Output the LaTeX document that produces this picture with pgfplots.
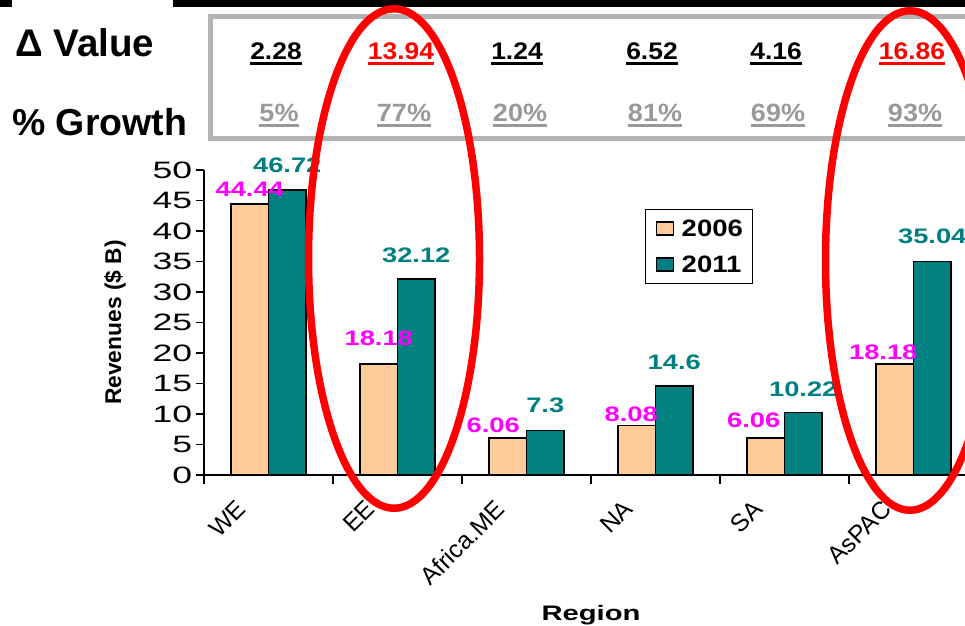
\documentclass[border=0pt]{standalone}
\usepackage{fontspec}
\setmainfont{Liberation Sans}
\usepackage{graphicx}
\usepackage{pgfplots}
\usepackage{pgfplotstable}
\pgfplotsset{compat=1.18}
\definecolor{c06}{HTML}{FFCC99}
\definecolor{c11}{HTML}{008080}
\definecolor{mag}{HTML}{FF00FF}
\definecolor{gbox}{HTML}{B3B3B3}
\definecolor{gtxt}{HTML}{999999}
\newcommand\ul[1]{\vtop{\hbox{#1}\kern2pt\hrule height 3pt}}
\newcommand\fs[1]{\fontsize{#1}{#1}\selectfont}

\pgfplotstableread{
x y dx dy
0 44.44 0 14.5
1 18.18 0 25.5
2 6.06 -14.5 13
3 8.08 -5.5 11.5
4 6.06 -12 18
5 18.18 -11.5 11.5
}\tsix
\pgfplotstableread{
x y dx dy
0 46.72 0 24.5
1 32.12 0 24
2 7.3 0 25.5
3 14.6 0 24
4 10.22 0 23
5 35.04 0 24.5
}\televen

\begin{document}
\begin{tikzpicture}[x=1pt,y=1pt]
\useasboundingbox (0,0) rectangle (965,625);
\clip (0,0) rectangle (965,625);
% top decoration
\fill[black] (0,618) rectangle (12,625);
\fill[black] (173,618) rectangle (965,625);
\draw[gbox, line width=5pt] (210.8,608.5) rectangle (995,486);
\node[anchor=base west, font=\bfseries\fs{38.5}, inner sep=0pt] at (15,568) {Δ Value};
\node[anchor=base west, font=\bfseries\fs{37.5}, inner sep=0pt] at (12,489) {\% Growth};
% delta row
\foreach \cx/\col/\v in {276/black/2.28, 401/red/13.94, 517/black/1.24, 652/black/6.52, 776/black/4.16, 912/red/16.86}
  \node[anchor=base, inner sep=0pt, text=\col, font=\bfseries\fs{24}, xscale=1.1] at (\cx,565) {\ul{\v}};
\foreach \cx/\v in {279/5, 404/77, 520/20, 655/81, 778/69, 915/93}
  \node[anchor=base, inner sep=0pt, text=gtxt, font=\bfseries\fs{25}, xscale=1.08] at (\cx,503) {\ul{\v\%}};

\begin{axis}[
  at={(204pt,150pt)}, anchor=south west,
  scale only axis, width=774pt, height=305pt,
  xmin=-0.5, xmax=5.5, ymin=0, ymax=50,
  axis x line*=bottom, axis y line*=left,
  axis line style={black, line width=1.2pt},
  ybar=0pt, bar width=37.5pt,
  xtick={-0.5,0.5,1.5,2.5,3.5,4.5,5.5},
  xticklabels={,,,,,,},
  extra x ticks={0,1,2,3,4,5},
  extra x tick labels={WE,EE,Africa.ME,NA,SA,AsPAC},
  extra x tick style={major tick length=0pt},
  x tick label style={font=\fs{24.6}, anchor=north east, inner sep=0pt, xshift=-33pt, yshift=-23.5pt, rotate=45},
  ytick={0,5,...,50},
  tick align=outside, major tick length=8.5pt,
  tick style={black, line width=1.2pt},
  y tick label style={font=\fs{23.7}, xscale=1.5, inner sep=2pt},
  /pgf/number format/assume math mode=true,
  clip=false,
  ylabel={Revenues (\$ B)},
  ylabel style={at={(axis description cs:-0.115,0.5)}, anchor=center, font=\bfseries\fs{22.8}},
  xlabel={Region},
  xlabel style={at={(axis description cs:0.5,-0.4754)}, anchor=base, font=\bfseries\fs{21}, xscale=1.39},
  legend style={at={(axis description cs:0.5698,0.8721)}, anchor=north west, draw=black, line width=1pt, fill=white,
    font=\bfseries\fs{23.7}, inner xsep=10pt, inner ysep=10pt, row sep=18pt, column sep=8pt,
    nodes={inner sep=0pt}, cells={anchor=west}},
  mylegend/.style={legend image code/.code={\draw[##1, line width=1.2pt] (0pt,-6.5pt) rectangle (17pt,6.5pt);}},
  nodes near coords={\pgfmathprintnumber{\pgfplotspointmeta}},
]
\addplot[fill=c06, draw=black, line width=1.5pt, mylegend,
  visualization depends on={\thisrow{dx}\as\dx},
  visualization depends on={\thisrow{dy}\as\dy},
  every node near coord/.append style={anchor=center, xshift=\dx pt, yshift=\dy pt, xscale=1.3, font=\bfseries\fs{21}, text=mag, inner sep=0pt}]
  table[x=x,y=y]{\tsix};
\addlegendentry{\scalebox{1.16}[1]{2006}}
\addplot[fill=c11, draw=black, line width=1.5pt, mylegend,
  visualization depends on={\thisrow{dx}\as\dx},
  visualization depends on={\thisrow{dy}\as\dy},
  every node near coord/.append style={anchor=center, xshift=\dx pt, yshift=\dy pt, xscale=1.3, font=\bfseries\fs{21}, text=c11, inner sep=0pt}]
  table[x=x,y=y]{\televen};
\addlegendentry{\scalebox{1.16}[1]{2011}}
\end{axis}
% highlight ellipses
\draw[red, line width=7.5pt] (394pt,366.5pt) ellipse [x radius=85.5pt, y radius=249.75pt];
\draw[red, line width=7.5pt] (910pt,364.5pt) ellipse [x radius=84.5pt, y radius=249.75pt];
\end{tikzpicture}
\end{document}
